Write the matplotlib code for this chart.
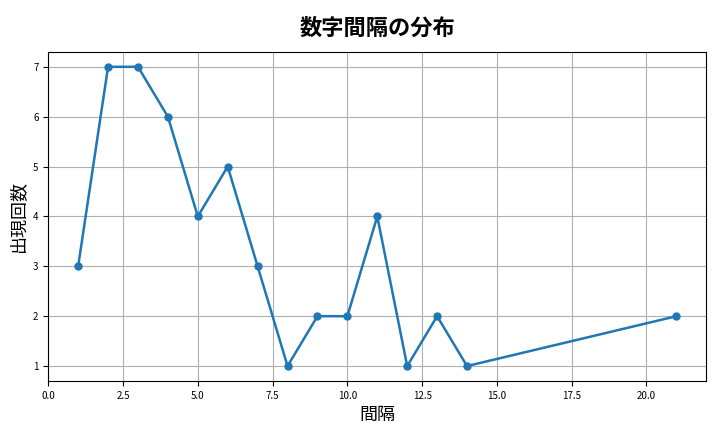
import matplotlib
matplotlib.use('Agg')
import matplotlib.pyplot as plt

plt.rcParams['font.family'] = ['Noto Sans CJK JP', 'DejaVu Sans']

# interval -> count
intervals = [1, 2, 3, 4, 5, 6, 7, 8, 9, 10, 11, 12, 13, 14, 21]
counts = [3, 7, 7, 6, 4, 5, 3, 1, 2, 2, 4, 1, 2, 1, 2]

fig, ax = plt.subplots(figsize=(7.2, 4.32), dpi=100)
ax.plot(intervals, counts, marker='o', color='#1f77b4', linewidth=1.8, markersize=5)
ax.set_title('数字間隔の分布', fontsize=16, fontweight='bold', pad=12)
ax.set_xlabel('間隔', fontsize=13)
ax.set_ylabel('出現回数', fontsize=13)
ax.set_xlim(0, 22)
ax.tick_params(labelsize=7)
ax.grid(True)
fig.subplots_adjust(left=0.067, right=0.981, top=0.880, bottom=0.118)
fig.savefig('out.png')
